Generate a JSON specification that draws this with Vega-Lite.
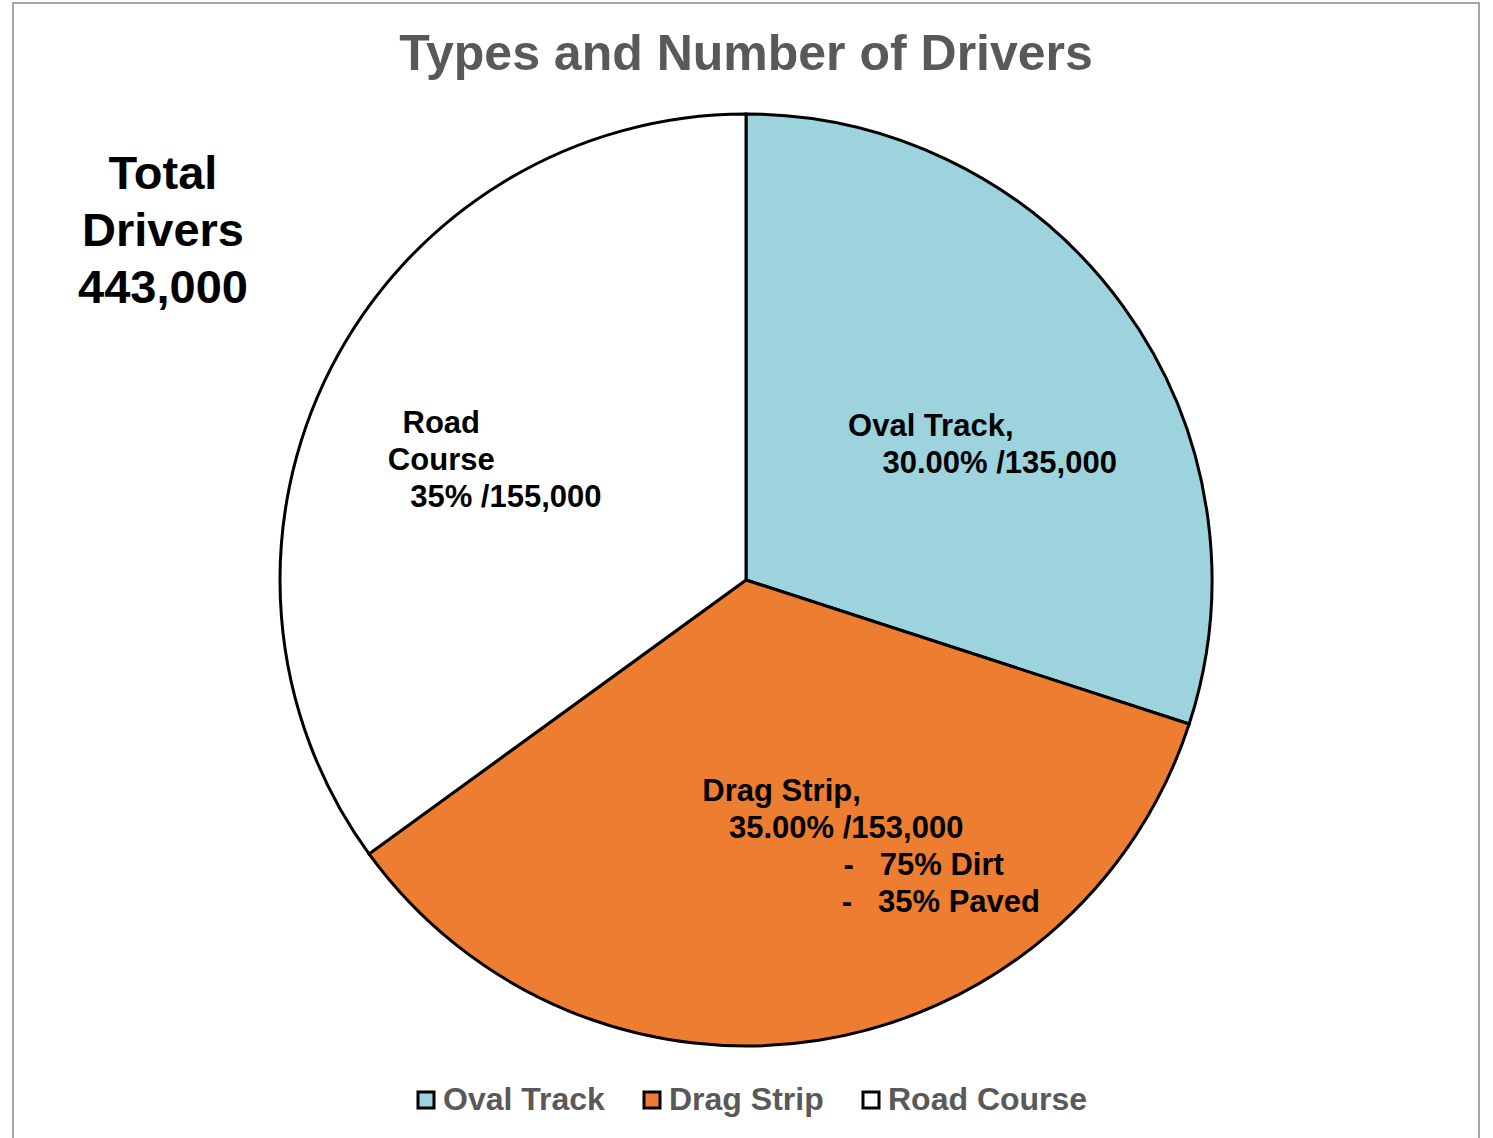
{
  "$schema": "https://vega.github.io/schema/vega-lite/v6.json",
  "width": 1466,
  "height": 1154,
  "padding": {"left": 13, "top": 3, "right": 14, "bottom": 0},
  "background": "white",
  "view": {"stroke": "#A6A6A6", "strokeWidth": 2},
  "title": {
    "text": "Types and Number of Drivers",
    "font": "Liberation Sans",
    "fontSize": 50,
    "fontWeight": "bold",
    "color": "#595959",
    "anchor": "middle",
    "offset": -77
  },
  "data": {
    "values": [
      {"category": "Oval Track", "percent": 30, "count": 135000, "label": "\u200b\nOval Track,\u00a0\u00a0\u00a0\u00a0\u00a0\u200b\n\u200b\u00a0\u00a0\u00a0\u00a0\u00a0\u00a0\u00a0\u00a0\u00a0\u00a0\u00a030.00% /135,000"},
      {"category": "Drag Strip", "percent": 35, "count": 153000, "label": "Drag Strip,\u00a0\u200b\n\u200b\u00a0\u00a0\u00a0\u00a0\u00a0\u00a0\u00a0\u00a0\u00a0\u00a0\u00a0\u00a0\u00a0\u00a035.00% /153,000\n\u200b\u00a0\u00a0\u00a0\u00a0\u00a0\u00a0\u00a0\u00a0\u00a0\u00a0\u00a0\u00a0\u00a0\u00a0\u00a0\u00a0\u00a0\u00a0\u00a0\u00a0\u00a0\u00a0\u00a0\u00a0\u00a0\u00a0\u00a0\u00a0\u00a0\u00a0\u00a0\u00a0-\u00a0\u00a0\u00a075% Dirt\n\u200b\u00a0\u00a0\u00a0\u00a0\u00a0\u00a0\u00a0\u00a0\u00a0\u00a0\u00a0\u00a0\u00a0\u00a0\u00a0\u00a0\u00a0\u00a0\u00a0\u00a0\u00a0\u00a0\u00a0\u00a0\u00a0\u00a0\u00a0\u00a0\u00a0\u00a0\u00a0\u00a0\u00a0\u00a0\u00a0\u00a0-\u00a0\u00a0\u00a035% Paved"},
      {"category": "Road Course", "percent": 35, "count": 155000, "label": "Road\u00a0\u00a0\u00a0\u00a0\u00a0\u00a0\u00a0\u00a0\u00a0\u00a0\u00a0\u00a0\u00a0\u00a0\u00a0\u00a0\u00a0\u00a0\u200b\nCourse\u00a0\u00a0\u00a0\u00a0\u00a0\u00a0\u00a0\u00a0\u00a0\u00a0\u00a0\u00a0\u00a0\u00a0\u00a0\u00a0\u00a0\u00a0\u200b\n35% /155,000\u00a0\u00a0\u00a0\u200b"}
    ]
  },
  "layer": [
    {
      "mark": {"type": "arc", "outerRadius": 466, "stroke": "black", "strokeWidth": 3},
      "encoding": {
        "theta": {"field": "percent", "type": "quantitative", "stack": true},
        "order": {"field": "count", "type": "quantitative"},
        "color": {
          "field": "category",
          "type": "nominal",
          "scale": {"domain": ["Oval Track", "Drag Strip", "Road Course"], "range": ["#9DD3DD", "#ED7D31", "#FFFFFF"]},
          "legend": {
            "orient": "none",
            "legendX": 397,
            "legendY": 1081,
            "direction": "horizontal",
            "title": null
          }
        }
      }
    },
    {
      "mark": {
        "type": "text",
        "radius": 255,
        "font": "Liberation Sans",
        "fontSize": 31,
        "fontWeight": "bold",
        "lineHeight": 37,
        "lineBreak": "\n",
        "align": "center",
        "baseline": "middle",
        "dy": -40,
        "fill": "black"
      },
      "encoding": {
        "theta": {"field": "percent", "type": "quantitative", "stack": true},
        "order": {"field": "count", "type": "quantitative"},
        "detail": {"field": "category", "type": "nominal"},
        "text": {"field": "label", "type": "nominal"}
      }
    },
    {
      "data": {"values": [{"note": "Total\nDrivers\n443,000"}]},
      "mark": {
        "type": "text",
        "font": "Liberation Sans",
        "fontSize": 47,
        "fontWeight": "bold",
        "lineHeight": 57,
        "lineBreak": "\n",
        "align": "center",
        "baseline": "middle",
        "dx": -583,
        "dy": -405,
        "fill": "black"
      },
      "encoding": {
        "text": {"field": "note", "type": "nominal"}
      }
    }
  ],
  "config": {
    "style": {"view": {"stroke": "#A6A6A6", "strokeWidth": 2}},
    "legend": {
      "symbolType": "square",
      "symbolSize": 256,
      "symbolStrokeColor": "black",
      "symbolStrokeWidth": 3,
      "labelFont": "Liberation Sans",
      "labelFontSize": 32,
      "labelFontWeight": "bold",
      "labelColor": "#595959",
      "labelOffset": 1,
      "columnPadding": 31,
      "labelLimit": 400
    }
  }
}
